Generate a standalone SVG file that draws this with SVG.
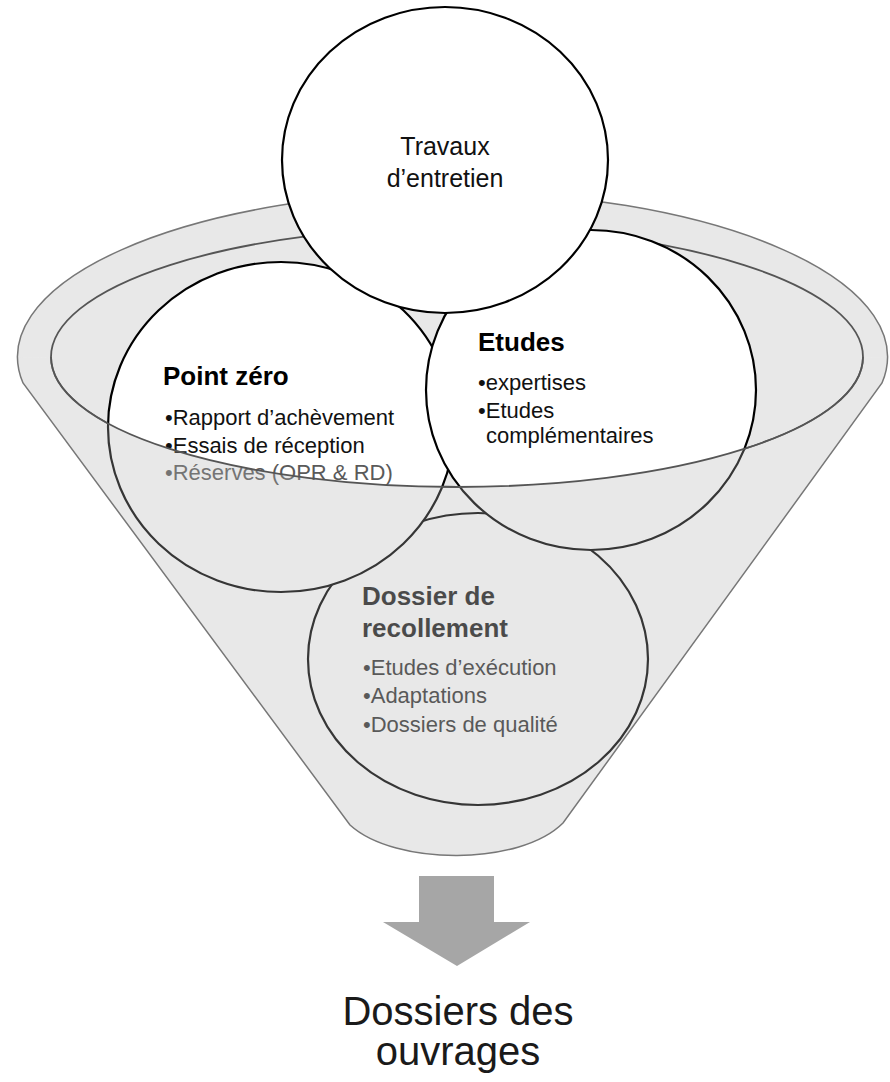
<svg xmlns="http://www.w3.org/2000/svg" width="890" height="1082" viewBox="0 0 890 1082">
<style>
  text { font-family: "Liberation Sans", Arial, sans-serif; }
  .title { font-size: 26px; font-weight: bold; fill: #000; }
  .item { font-size: 22px; fill: #111; }
  .circ { fill: #fff; stroke: #000; stroke-width: 2.2; }
  .outline { fill: none; stroke: #777; stroke-width: 1.5; }
  .rim { fill: none; stroke: #555; stroke-width: 1.8; }
</style>
<rect width="890" height="1082" fill="#fff"/>

<g id="funnel-back">
  <path d="M23,383 A435,165 0 1 1 882,383 L563,823 C520,866 395,866 350,825 Z" fill="#e8e8e8"/>
  <path d="M51,357 A406,130 0 0 0 863,357 L887,358 A435,165 0 0 1 882,383 L563,823 C520,866 395,866 350,825 L23,383 A435,165 0 0 1 17,358 Z" fill="#fff"/>
  <ellipse class="rim" cx="457" cy="357" rx="406" ry="130"/>
</g>

<g id="node-dossier">
  <ellipse class="circ" cx="478" cy="659" rx="170" ry="146"/>
  <text class="title" x="362" y="605" style="fill:#1e1e1e">Dossier de</text>
  <text class="title" x="362" y="637" style="fill:#1e1e1e">recollement</text>
  <text class="item" x="363" y="675" style="fill:#333">•Etudes d’exécution</text>
  <text class="item" x="363" y="703" style="fill:#333">•Adaptations</text>
  <text class="item" x="363" y="732" style="fill:#333">•Dossiers de qualité</text>
</g>

<g id="node-point-zero">
  <ellipse class="circ" cx="281" cy="427" rx="173" ry="165"/>
  <text class="title" x="163" y="385">Point zéro</text>
  <text class="item" x="165" y="425">•Rapport d’achèvement</text>
  <text class="item" x="165" y="453">•Essais de réception</text>
  <text class="item" x="165" y="480" style="fill:#5a5a5a">•Réserves (OPR &amp; RD)</text>
</g>

<g id="node-etudes">
  <ellipse class="circ" cx="591" cy="390" rx="165" ry="160"/>
  <text class="title" x="478" y="351">Etudes</text>
  <text class="item" x="478" y="390">•expertises</text>
  <text class="item" x="478" y="418">•Etudes</text>
  <text class="item" x="486" y="443">complémentaires</text>
</g>

<g id="funnel-front">
  <path d="M51,357 A406,130 0 0 0 863,357 L887,358 A435,165 0 0 1 882,383 L563,823 C520,866 395,866 350,825 L23,383 A435,165 0 0 1 17,358 Z" fill="#b2b2b2" fill-opacity="0.3"/>
  <path class="rim" d="M51,357 A406,130 0 0 0 863,357"/>
  <path class="outline" d="M23,383 A435,165 0 1 1 882,383 L563,823 C520,866 395,866 350,825 Z"/>
</g>

<g id="node-travaux">
  <ellipse class="circ" cx="445" cy="160" rx="163" ry="153" stroke-width="2.6"/>
  <text x="445" y="155" text-anchor="middle" font-size="25" fill="#111">Travaux</text>
  <text x="445" y="187" text-anchor="middle" font-size="25" fill="#111">d’entretien</text>
</g>

<g id="connectors">
  <path id="arrow" d="M419,876 H494 V922 H530 L457,966 L383,922 H419 Z" fill="#a6a6a6"/>
</g>

<g id="node-result">
  <text x="458" y="1025" text-anchor="middle" font-size="40" fill="#1a1a1a">Dossiers des</text>
  <text x="458" y="1065" text-anchor="middle" font-size="40" fill="#1a1a1a">ouvrages</text>
</g>
</svg>
